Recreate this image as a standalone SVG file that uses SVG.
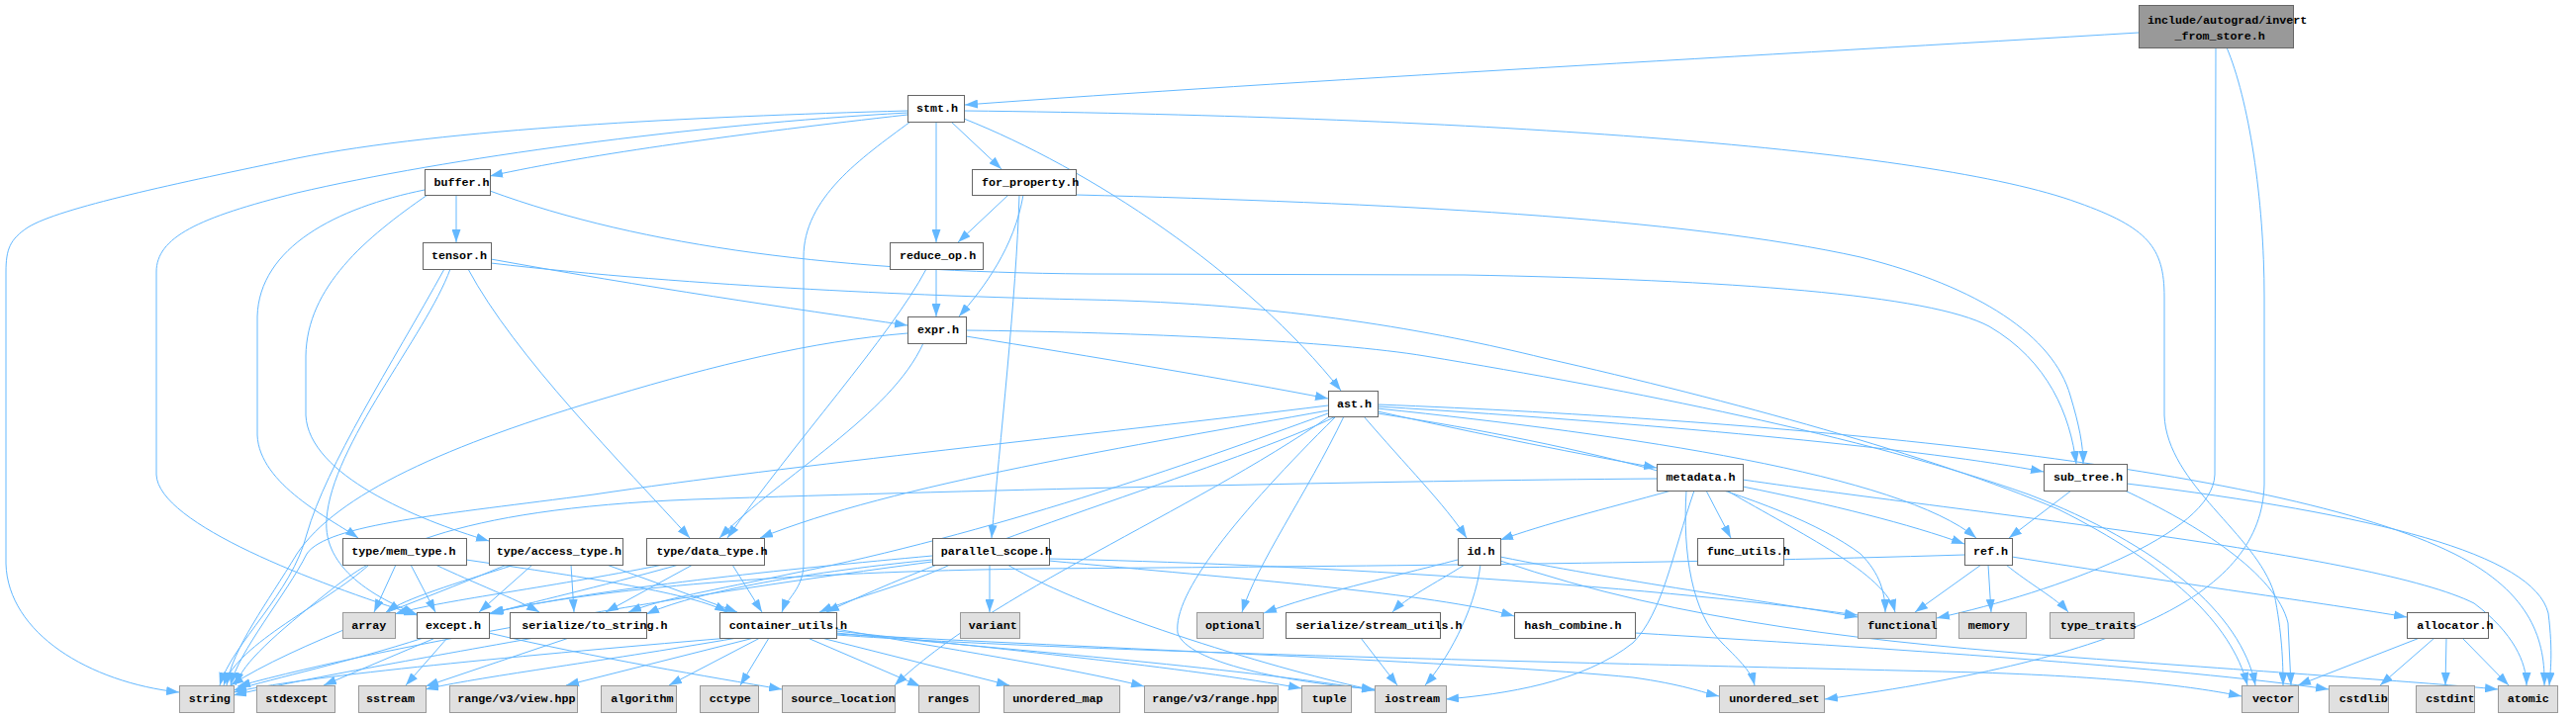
<svg xmlns="http://www.w3.org/2000/svg" width="2603" height="725" viewBox="0 0 2603 725">
<style>
.w{fill:#ffffff;stroke:#666666;stroke-width:1}
.g{fill:#e0e0e0;stroke:#999999;stroke-width:1}
.r{fill:#999999;stroke:#666666;stroke-width:1}
text{font-family:"Liberation Mono","DejaVu Sans Mono",monospace;font-size:11.7px;font-weight:bold;fill:#000000}
#edges path{fill:none;stroke:#63b8ff;stroke-width:1;marker-end:url(#arr)}
</style>
<defs>
<marker id="arr" markerUnits="userSpaceOnUse" markerWidth="13" markerHeight="9" refX="13" refY="4.5" orient="auto">
<path d="M0,0 L13,4.5 L0,9 z" fill="#63b8ff"/>
</marker>
</defs>
<rect x="0" y="0" width="2603" height="725" fill="#ffffff"/>
<g id="edges">
<path d="M2161,33 C1800,55 1300,82 975,106"/>
<path d="M2239,48 L2238,480 C2236,540 2080,598 1957,625"/>
<path d="M2250,48 C2272,100 2288,200 2288,300 L2288,490 C2285,600 2150,665 1844,707"/>
<path d="M917,112 C700,118 450,130 300,160 C180,185 60,210 28,230 C10,242 6,252 6,275 L6,570 C8,640 90,690 181,700"/>
<path d="M917,114 C700,126 450,160 300,195 C200,220 158,240 158,275 L158,480 C160,530 320,590 421,622"/>
<path d="M917,116 C750,135 600,155 495,178"/>
<path d="M920,123 C870,160 812,200 812,260 L812,570 C812,595 795,605 790,619"/>
<path d="M946,123 L946,245"/>
<path d="M961,123 L1012,171"/>
<path d="M974,120 C1100,170 1260,275 1355,395"/>
<path d="M974,112 C1500,118 1950,150 2100,205 C2170,230 2187,250 2187,300 L2187,420 C2190,490 2280,540 2298,600 C2306,640 2307,670 2307,693"/>
<path d="M429,192 C340,210 262,250 260,320 L260,440 C262,490 335,525 362,544"/>
<path d="M432,197 C370,240 310,290 309,360 L309,420 C312,480 420,525 494,547"/>
<path d="M461,197 L461,245"/>
<path d="M495,193 C650,250 850,275 1100,277 L1480,278 C1750,283 1950,298 2010,330 C2070,365 2092,420 2098,469"/>
<path d="M1019,197 L968,245"/>
<path d="M1034,197 C1025,250 995,290 969,320"/>
<path d="M1030,197 C1027,300 1010,450 1002,544"/>
<path d="M1087,197 C1400,205 1700,220 1880,260 C2000,290 2075,340 2092,400 C2101,430 2105,450 2105,469"/>
<path d="M449,272 C395,370 330,470 310,540 C295,600 235,650 222,693"/>
<path d="M455,272 C430,340 335,450 330,525 C326,575 380,605 421,621"/>
<path d="M473,272 C520,360 630,470 697,544"/>
<path d="M496,262 C650,290 800,312 917,329"/>
<path d="M496,266 C700,290 950,300 1100,303 C1300,307 1450,335 1560,362 C1750,405 1950,460 2080,515 C2190,570 2255,630 2271,693"/>
<path d="M946,272 L946,320"/>
<path d="M936,272 C900,340 800,450 735,544"/>
<path d="M917,337 C820,345 720,370 620,400 C450,450 340,500 300,560 C270,610 235,655 229,693"/>
<path d="M933,347 C900,420 790,480 727,544"/>
<path d="M976,340 C1100,360 1250,385 1342,403"/>
<path d="M976,334 C1150,336 1350,345 1440,360 C1650,395 1880,440 2050,500 C2180,550 2265,620 2279,693"/>
<path d="M1342,410 C1100,440 800,470 600,500 C450,520 330,530 310,560 C290,600 240,660 233,693"/>
<path d="M1342,415 C1150,450 900,490 768,544"/>
<path d="M1342,418 C1200,470 1000,540 800,580 C720,597 670,605 635,619"/>
<path d="M1350,421 C1250,470 1000,540 835,619"/>
<path d="M1378,421 C1420,470 1460,510 1482,544"/>
<path d="M1392,416 C1500,440 1600,460 1674,473"/>
<path d="M1392,411 C1700,430 1950,455 2065,477"/>
<path d="M1392,413 C1650,440 1920,480 1997,544"/>
<path d="M1392,418 C1600,450 1800,500 1880,560 C1900,580 1905,600 1905,619"/>
<path d="M1392,409 C1800,425 2300,470 2480,560 C2560,600 2572,650 2571,693"/>
<path d="M1358,421 C1320,500 1270,570 1255,619"/>
<path d="M1350,421 C1250,520 1185,600 1190,640 C1200,670 1300,690 1389,697"/>
<path d="M1345,420 C1200,520 1000,600 904,693"/>
<path d="M1689,496 C1620,515 1560,530 1516,546"/>
<path d="M1724,496 L1749,544"/>
<path d="M1761,492 C1850,510 1930,530 1985,550"/>
<path d="M1745,496 C1820,540 1905,580 1915,619"/>
<path d="M1712,496 C1690,560 1680,620 1650,650 C1600,690 1520,702 1461,707"/>
<path d="M1704,496 C1700,560 1710,620 1740,650 C1760,670 1770,680 1773,693"/>
<path d="M1674,484 C1400,486 1000,495 700,505 C450,515 380,560 330,600 C280,640 245,670 238,693"/>
<path d="M1761,485 C2000,520 2400,560 2500,610 C2540,640 2553,670 2553,693"/>
<path d="M1473,566 C1400,585 1330,600 1277,620"/>
<path d="M1480,571 C1450,590 1420,605 1407,619"/>
<path d="M1496,571 C1490,620 1460,670 1440,693"/>
<path d="M1516,563 C1650,590 1800,610 1877,624"/>
<path d="M1516,567 C1700,630 1900,650 2100,665 C2300,680 2450,690 2524,697"/>
<path d="M2002,571 L1935,619"/>
<path d="M2009,571 L2012,619"/>
<path d="M2027,571 C2050,590 2078,605 2090,619"/>
<path d="M2033,563 C2200,590 2350,610 2432,624"/>
<path d="M1985,561 C1700,570 1300,573 1050,575 C800,578 600,595 495,620"/>
<path d="M2093,496 L2030,544"/>
<path d="M2147,496 C2220,530 2300,580 2312,630 L2315,693"/>
<path d="M2149,489 C2400,520 2560,560 2575,620 C2580,660 2577,680 2576,693"/>
<path d="M2445,645 L2322,693"/>
<path d="M2460,645 L2405,693"/>
<path d="M2472,645 L2471,693"/>
<path d="M2488,645 L2535,693"/>
<path d="M1652,640 C1900,655 2200,675 2353,697"/>
<path d="M1375,645 L1412,693"/>
<path d="M1000,571 L1000,619"/>
<path d="M960,571 C920,590 860,605 828,619"/>
<path d="M942,566 C800,580 700,600 653,621"/>
<path d="M942,562 C800,575 600,595 496,620"/>
<path d="M942,568 C700,600 400,650 240,694"/>
<path d="M1060,567 C1250,585 1450,600 1530,623"/>
<path d="M1018,571 C1100,620 1300,680 1389,698"/>
<path d="M1060,565 C1300,570 1650,590 1877,622"/>
<path d="M373,571 C330,610 240,650 226,693"/>
<path d="M400,571 L378,619"/>
<path d="M415,571 L440,619"/>
<path d="M440,571 C480,590 520,605 545,619"/>
<path d="M471,566 C600,585 700,600 735,619"/>
<path d="M512,571 C420,610 300,650 233,693"/>
<path d="M520,571 C460,590 410,605 390,619"/>
<path d="M538,571 L484,619"/>
<path d="M577,571 L580,619"/>
<path d="M613,571 L745,619"/>
<path d="M670,571 C550,595 440,608 399,621"/>
<path d="M686,571 C600,595 540,608 494,621"/>
<path d="M700,571 L612,619"/>
<path d="M740,571 L770,619"/>
<path d="M428,645 C350,670 280,685 236,698"/>
<path d="M440,645 L327,693"/>
<path d="M452,645 L410,693"/>
<path d="M494,640 C600,665 720,685 790,697"/>
<path d="M540,645 C400,670 300,688 236,703"/>
<path d="M575,645 L430,694"/>
<path d="M737,645 C500,665 300,685 236,700"/>
<path d="M745,645 C600,670 480,685 430,697"/>
<path d="M762,645 L572,693"/>
<path d="M768,645 L676,693"/>
<path d="M777,645 L748,693"/>
<path d="M816,645 L930,694"/>
<path d="M830,645 L1020,693"/>
<path d="M845,636 C950,655 1080,675 1156,694"/>
<path d="M845,638 C1000,655 1200,675 1315,696"/>
<path d="M845,640 C1000,655 1250,675 1389,698"/>
<path d="M845,641 C1100,655 1500,670 1650,685 C1700,692 1720,700 1737,704"/>
<path d="M845,642 C1100,660 1600,670 2000,680 C2150,685 2220,695 2265,704"/>
</g>
<g id="n_root"><rect class="r" x="2161.5" y="5.5" width="156" height="43"/><text x="2170" y="23.5">include/autograd/invert</text><text x="2197.5" y="39.5">_from_store.h</text></g>
<g id="n_stmt"><rect class="w" x="917.5" y="96.5" width="57" height="27"/><text x="926" y="113">stmt.h</text></g>
<g id="n_buffer"><rect class="w" x="429.5" y="171.5" width="66" height="26"/><text x="438.5" y="188">buffer.h</text></g>
<g id="n_for_property"><rect class="w" x="982.5" y="171.5" width="105" height="26"/><text x="992" y="188">for_property.h</text></g>
<g id="n_tensor"><rect class="w" x="427.5" y="245.5" width="69" height="27"/><text x="436" y="262">tensor.h</text></g>
<g id="n_reduce_op"><rect class="w" x="899.5" y="245.5" width="94" height="27"/><text x="909" y="262">reduce_op.h</text></g>
<g id="n_expr"><rect class="w" x="917.5" y="320.5" width="59" height="27"/><text x="927" y="337">expr.h</text></g>
<g id="n_ast"><rect class="w" x="1342.5" y="395.5" width="50" height="26"/><text x="1351" y="412">ast.h</text></g>
<g id="n_metadata"><rect class="w" x="1674.5" y="469.5" width="87" height="27"/><text x="1683.5" y="486">metadata.h</text></g>
<g id="n_sub_tree"><rect class="w" x="2065.5" y="469.5" width="84" height="27"/><text x="2075" y="486">sub_tree.h</text></g>
<g id="n_mem_type"><rect class="w" x="346.5" y="544.5" width="125" height="27"/><text x="355.3" y="561">type/mem_type.h</text></g>
<g id="n_access_type"><rect class="w" x="494.5" y="544.5" width="135" height="27"/><text x="501.7" y="561">type/access_type.h</text></g>
<g id="n_data_type"><rect class="w" x="653.5" y="544.5" width="119" height="27"/><text x="663.3" y="561">type/data_type.h</text></g>
<g id="n_parallel_scope"><rect class="w" x="942.5" y="544.5" width="118" height="27"/><text x="950.7" y="561">parallel_scope.h</text></g>
<g id="n_id"><rect class="w" x="1473.5" y="544.5" width="43" height="27"/><text x="1482.5" y="561">id.h</text></g>
<g id="n_func_utils"><rect class="w" x="1715.5" y="544.5" width="87" height="27"/><text x="1724.7" y="561">func_utils.h</text></g>
<g id="n_ref"><rect class="w" x="1985.5" y="544.5" width="48" height="27"/><text x="1994" y="561">ref.h</text></g>
<g id="n_array"><rect class="g" x="346.5" y="619.5" width="53" height="26"/><text x="355.3" y="636">array</text></g>
<g id="n_except"><rect class="w" x="421.5" y="619.5" width="73" height="26"/><text x="430" y="636">except.h</text></g>
<g id="n_to_string"><rect class="w" x="515.5" y="619.5" width="138" height="26"/><text x="527.3" y="636">serialize/to_string.h</text></g>
<g id="n_container_utils"><rect class="w" x="727.5" y="619.5" width="118" height="26"/><text x="736.7" y="636">container_utils.h</text></g>
<g id="n_variant"><rect class="g" x="970.5" y="619.5" width="60" height="26"/><text x="978.7" y="636">variant</text></g>
<g id="n_optional"><rect class="g" x="1209.5" y="619.5" width="67" height="26"/><text x="1218" y="636">optional</text></g>
<g id="n_stream_utils"><rect class="w" x="1299.5" y="619.5" width="156" height="26"/><text x="1309.3" y="636">serialize/stream_utils.h</text></g>
<g id="n_hash_combine"><rect class="w" x="1530.5" y="619.5" width="122" height="26"/><text x="1540.3" y="636">hash_combine.h</text></g>
<g id="n_functional"><rect class="g" x="1877.5" y="619.5" width="79" height="26"/><text x="1887.3" y="636">functional</text></g>
<g id="n_memory"><rect class="g" x="1979.5" y="619.5" width="68" height="26"/><text x="1988.7" y="636">memory</text></g>
<g id="n_type_traits"><rect class="g" x="2071.5" y="619.5" width="85" height="26"/><text x="2081.7" y="636">type_traits</text></g>
<g id="n_allocator"><rect class="w" x="2432.5" y="619.5" width="82" height="26"/><text x="2442.3" y="636">allocator.h</text></g>
<g id="n_string"><rect class="g" x="181.5" y="693.5" width="55" height="27"/><text x="190.7" y="710">string</text></g>
<g id="n_stdexcept"><rect class="g" x="259.5" y="693.5" width="79" height="27"/><text x="268.3" y="710">stdexcept</text></g>
<g id="n_sstream"><rect class="g" x="362.5" y="693.5" width="68" height="27"/><text x="370" y="710">sstream</text></g>
<g id="n_view"><rect class="g" x="454.5" y="693.5" width="129" height="27"/><text x="462.3" y="710">range/v3/view.hpp</text></g>
<g id="n_algorithm"><rect class="g" x="607.5" y="693.5" width="76" height="27"/><text x="617.3" y="710">algorithm</text></g>
<g id="n_cctype"><rect class="g" x="707.5" y="693.5" width="59" height="27"/><text x="716.7" y="710">cctype</text></g>
<g id="n_source_location"><rect class="g" x="790.5" y="693.5" width="114" height="27"/><text x="799.3" y="710">source_location</text></g>
<g id="n_ranges"><rect class="g" x="928.5" y="693.5" width="61" height="27"/><text x="937.3" y="710">ranges</text></g>
<g id="n_unordered_map"><rect class="g" x="1014.5" y="693.5" width="117" height="27"/><text x="1023.3" y="710">unordered_map</text></g>
<g id="n_range"><rect class="g" x="1156.5" y="693.5" width="135" height="27"/><text x="1164.3" y="710">range/v3/range.hpp</text></g>
<g id="n_tuple"><rect class="g" x="1315.5" y="693.5" width="50" height="27"/><text x="1325.7" y="710">tuple</text></g>
<g id="n_iostream"><rect class="g" x="1389.5" y="693.5" width="72" height="27"/><text x="1399" y="710">iostream</text></g>
<g id="n_unordered_set"><rect class="g" x="1737.5" y="693.5" width="106" height="27"/><text x="1747.3" y="710">unordered_set</text></g>
<g id="n_vector"><rect class="g" x="2265.5" y="693.5" width="57" height="27"/><text x="2276" y="710">vector</text></g>
<g id="n_cstdlib"><rect class="g" x="2353.5" y="693.5" width="60" height="27"/><text x="2363.7" y="710">cstdlib</text></g>
<g id="n_cstdint"><rect class="g" x="2441.5" y="693.5" width="59" height="27"/><text x="2451.3" y="710">cstdint</text></g>
<g id="n_atomic"><rect class="g" x="2524.5" y="693.5" width="60" height="27"/><text x="2533.7" y="710">atomic</text></g>
</svg>
